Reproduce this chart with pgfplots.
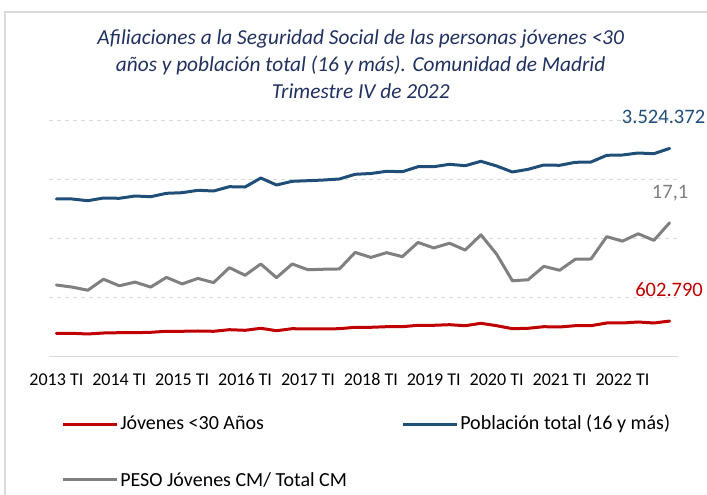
\documentclass[border=0pt]{standalone}
\usepackage{pgfplots}
\pgfplotsset{compat=1.18}
\usepackage{pgfplotstable}
\usepackage{fontspec}
\setmainfont{Carlito}
\definecolor{cblue}{RGB}{31,78,121}
\definecolor{cred}{RGB}{192,0,0}
\definecolor{cgray}{RGB}{128,128,128}
\definecolor{cgrid}{RGB}{217,217,217}
\definecolor{ctitle}{RGB}{32,48,96}

\pgfplotstableread{
q v
0 395900
1 395900
2 384100
3 401000
4 406100
5 406100
6 412800
7 429800
8 429800
9 434800
10 429800
11 456800
12 446700
13 480500
14 439900
15 473800
16 468700
17 468700
18 473800
19 497400
20 497400
21 507600
22 507600
23 531300
24 531300
25 541400
26 524500
27 565100
28 524500
29 473800
30 480500
31 507600
32 502500
33 524500
34 524500
35 570200
36 570200
37 587100
38 570200
39 602790
}\jovenes

\pgfplotstableread{
q v
0 2668300
1 2668300
2 2639500
3 2685200
4 2680100
5 2719000
6 2707200
7 2764700
8 2774900
9 2815500
10 2803600
11 2876400
12 2871300
13 3023600
14 2905200
15 2967800
16 2977900
17 2989800
18 3006700
19 3086200
20 3099700
21 3136900
22 3130200
23 3214800
24 3214800
25 3255400
26 3231700
27 3306200
28 3226600
29 3125100
30 3170800
31 3243600
32 3238500
33 3289200
34 3294300
35 3407700
36 3412800
37 3446600
38 3434800
39 3524372
}\total

\pgfplotstableread{
q v
0 14.73
1 14.65
2 14.53
3 14.95
4 14.70
5 14.84
6 14.65
7 15.02
8 14.77
9 14.98
10 14.82
11 15.39
12 15.10
13 15.53
14 15.01
15 15.53
16 15.31
17 15.33
18 15.34
19 15.97
20 15.78
21 15.96
22 15.81
23 16.35
24 16.14
25 16.32
26 16.06
27 16.64
28 15.90
29 14.89
30 14.93
31 15.44
32 15.29
33 15.71
34 15.72
35 16.57
36 16.40
37 16.68
38 16.43
39 17.10
}\peso

\begin{document}
\begin{tikzpicture}[x=0.75pt,y=0.75pt]
\useasboundingbox (0,0) rectangle (707,495);
\draw[cgrid, line width=0.9pt] (5,-10) -- (5,{495-12}) -- (720,{495-12});

% title
\node[anchor=base, inner sep=0, text=ctitle, font=\fontsize{16}{19}\selectfont\itshape] at (360.7,{495-45}) {Afiliaciones a la Seguridad Social de las personas jóvenes <30};
\node[anchor=base, inner sep=0, text=ctitle, font=\fontsize{16}{19}\selectfont\itshape] at (360.7,{495-72}) {años y población total (16 y más). Comunidad de Madrid};
\node[anchor=base, inner sep=0, text=ctitle, font=\fontsize{16}{19}\selectfont\itshape] at (360.7,{495-99}) {Trimestre IV de 2022};

\begin{axis}[
  at={(36.375pt,103.725pt)}, anchor=south west,
  scale only axis, width=471.75pt, height=177.3pt,
  xmin=-0.5, xmax=39.5, ymin=0, ymax=4000000,
  scaled y ticks=false,
  axis x line*=bottom, axis y line*=left,
  x axis line style={draw=cgrid, line width=1.2pt},
  y axis line style={draw=none},
  ytick={1000000,2000000,3000000,4000000}, yticklabels={},
  ymajorgrids, major grid style={draw=cgrid, line width=0.8pt, dash pattern=on 3.5pt off 2.5pt},
  xtick={0,4,...,36},
  xticklabels={2013 TI,2014 TI,2015 TI,2016 TI,2017 TI,2018 TI,2019 TI,2020 TI,2021 TI,2022 TI},
  major tick length=0pt,
  xticklabel style={font=\fontsize{13.5}{16}\selectfont, text=black, anchor=base, yshift=-21.75pt},
  clip=false,
]
\addplot[cred, line width=2.25pt, line join=round, line cap=round] table[x=q,y=v] {\jovenes};
\addplot[cblue, line width=2.25pt, line join=round, line cap=round] table[x=q,y=v] {\total};
\end{axis}

\begin{axis}[
  at={(36.375pt,103.725pt)}, anchor=south west,
  scale only axis, width=471.75pt, height=177.3pt,
  xmin=-0.5, xmax=39.5, ymin=12, ymax=21,
  hide axis, clip=false,
]
\addplot[cgray, line width=2.25pt, line join=round, line cap=round] table[x=q,y=v] {\peso};
\end{axis}

% data labels
\node[anchor=base west, inner sep=0, text=cblue, font=\fontsize{15.4}{18}\selectfont] at (621.7,{495-124}) {3.524.372};
\node[anchor=base west, inner sep=0, text=cgray, font=\fontsize{15.4}{18}\selectfont] at (651.7,{495-198.3}) {17,1};
\node[anchor=base west, inner sep=0, text=cred, font=\fontsize{15.4}{18}\selectfont] at (635,{495-296.7}) {602.790};

% legend
\draw[cred, line width=2.25pt] (63.3,{495-424.3}) -- (116.7,{495-424.3});
\node[anchor=base west, inner sep=0, font=\fontsize{15}{18}\selectfont] at (120,{495-430}) {Jóvenes <30 Años};
\draw[cblue, line width=2.25pt] (402.7,{495-424.3}) -- (456.7,{495-424.3});
\node[anchor=base west, inner sep=0, font=\fontsize{15}{18}\selectfont] at (460,{495-430}) {Población total (16 y más)};
\draw[cgray, line width=2.25pt] (63.3,{495-480}) -- (116.7,{495-480});
\node[anchor=base west, inner sep=0, font=\fontsize{15}{18}\selectfont] at (120,{495-486.5}) {PESO Jóvenes CM/ Total CM};
\end{tikzpicture}
\end{document}
